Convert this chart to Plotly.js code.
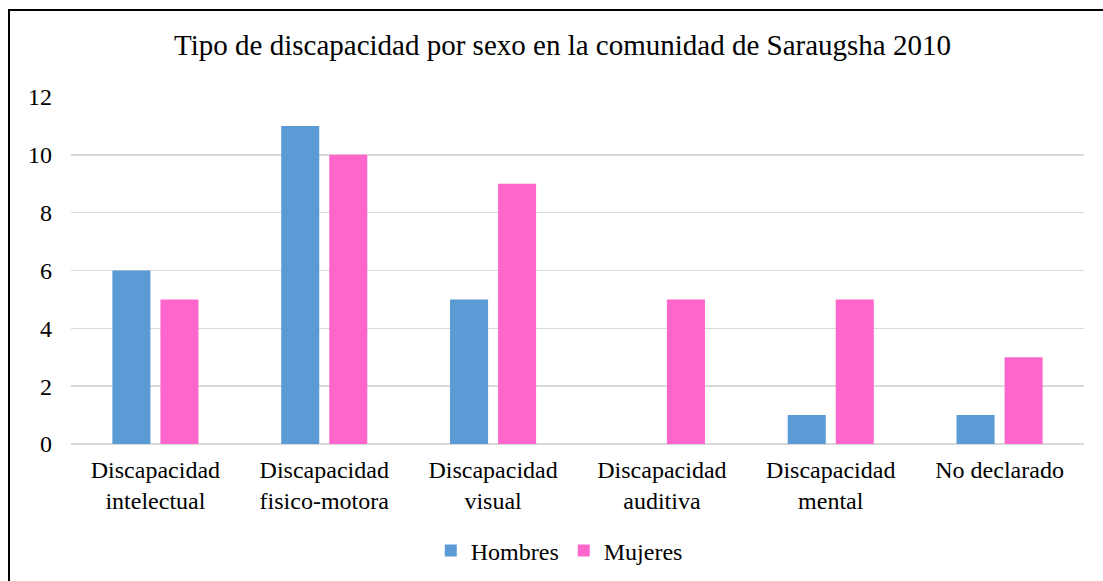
<!DOCTYPE html>
<html>
<head>
<meta charset="utf-8">
<script src="https://cdn.plot.ly/plotly-3.0.1.min.js"></script>
<style>
html,body{margin:0;padding:0;background:#fff;}
#frame{position:absolute;left:8px;top:9px;width:1095px;height:572px;border-top:2px solid #000;border-left:2px solid #000;box-sizing:border-box;}
#chart{position:absolute;left:0;top:0;width:1103px;height:581px;}
</style>
</head>
<body>
<div id="frame"></div>
<div id="chart"></div>
<script>
const categories = ["Discapacidad<br>intelectual","Discapacidad<br>fisico-motora","Discapacidad<br>visual","Discapacidad<br>auditiva","Discapacidad<br>mental","No declarado"];
const hombres = [6, 11, 5, 0, 1, 1];
const mujeres = [5, 10, 9, 5, 5, 3];
const titleText = "Tipo de discapacidad por sexo en la comunidad de Saraugsha 2010";

const font = "Liberation Serif";
const data = [
  {type:'bar', name:'Hombres', x:categories, y:hombres, marker:{color:'#5B9BD5'}},
  {type:'bar', name:'Mujeres', x:categories, y:mujeres, marker:{color:'#FF66CC'}}
];
const layout = {
  width:1103, height:581,
  paper_bgcolor:'rgba(0,0,0,0)', plot_bgcolor:'rgba(0,0,0,0)',
  margin:{l:71, r:19, t:97, b:137},
  title:{text:titleText, x:0.51, xanchor:'center', y:0.922, yanchor:'middle', automargin:false, font:{family:font, size:29, color:'#000'}},
  barmode:'group', bargap:0.431, bargroupgap:0.208,
  font:{family:font, size:24, color:'#000'},
  xaxis:{automargin:false, tickfont:{family:font, size:24, color:'#000'}, showgrid:false, showline:false, ticks:'', ticklabelstandoff:9},
  yaxis:{automargin:false, range:[0,12], dtick:2, tick0:0, showgrid:true, gridcolor:'#d9d9d9', gridwidth:1.5, zeroline:true, zerolinecolor:'#d9d9d9', zerolinewidth:1.5, tickfont:{family:font, size:24, color:'#000'}, ticklabelstandoff:18, ticks:''},
  legend:{orientation:'h', xref:'paper', x:0.482, xanchor:'center', yref:'container', y:0.052, yanchor:'middle', font:{family:font, size:24, color:'#000'}, itemwidth:30}
};
Plotly.newPlot('chart', data, layout, {displayModeBar:false, staticPlot:true});
</script>
</body>
</html>
